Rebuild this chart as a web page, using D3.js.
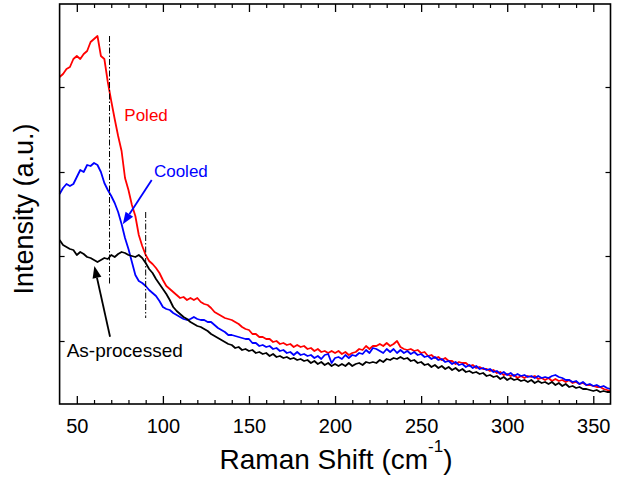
<!DOCTYPE html>
<html>
<head>
<meta charset="utf-8">
<script src="https://cdn.jsdelivr.net/npm/d3@7"></script>
<style>
  body { margin: 0; background: #fff; }
  text { font-family: "Liberation Sans", Arial, sans-serif; }
</style>
</head>
<body>
<div id="chart"></div>
<script>
// raman shift grid (cm-1), shared by all three spectra
var shift = [40,42,44,46,48,50,52,54,56,58,60,62,64,66,68,70,72,74,76,78,80,82,84,86,88,90,92,94,96,98,
  100,102,104,106,108,110,112,114,116,118,120,122,124,126,128,130,132,134,136,138,140,142,144,146,148,
  150,152,154,156,158,160,162,164,166,168,170,172,174,176,178,180,182,184,186,188,190,192,194,196,198,
  200,202,204,206,208,210,212,214,216,218,220,222,224,226,228,230,232,234,236,238,240,242,244,246,248,
  250,252,254,256,258,260,262,264,266,268,270,272,274,276,278,280,282,284,286,288,290,292,294,296,298,
  300,302,304,306,308,310,312,314,316,318,320,322,324,326,328,330,332,334,336,338,340,342,344,346,348,
  350,352,354,356,358,360];

var poled = [327,330,335,337,345,348,345,350,353,362,365,368,348,345,322,303,285,268,253,226,214,199,188,169,158,149,143,140,136,131,
  124,118,115,112,109,106,107,104,106,104,106,102,100,99,96,92,90,88,86,85,84,82,80,77,75,
  74,70,70,67,67,65,65,62,63,60,61,59,60,57,59,57,58,55,56,53,55,52,53,51,53,
  51,53,50,52,49,51,52,55,54,58,55,58,58,60,58,61,58,60,63,57,55,54,55,53,54,
  51,52,48,49,46,47,44,46,43,43,40,42,41,41,38,39,36,37,35,35,33,34,31,32,29,
  30,28,29,26,28,26,28,27,28,25,26,24,26,23,25,23,24,22,24,21,22,20,21,19,19,
  18,17,17,15,14,13];

var cooled = [210,216,220,218,220,227,234,232,239,238,241,239,232,221,214,208,201,192,180,166,155,142,129,123,121,118,114,111,108,103,
  97,95,94,91,89,87,85,84,85,87,85,84,84,82,82,79,76,74,72,69,69,68,67,66,65,
  65,61,61,58,59,57,58,55,56,53,54,51,52,49,52,49,50,48,49,46,48,45,49,50,41,
  46,47,45,49,46,49,48,51,50,54,51,56,55,53,51,55,52,55,51,54,51,53,50,52,49,
  50,47,48,45,47,44,45,42,43,40,42,39,40,37,39,36,38,35,36,34,35,32,33,30,32,
  29,31,28,30,28,29,27,28,26,28,26,27,26,28,29,27,26,24,24,22,23,20,22,19,20,
  18,19,17,18,16,15];

var asProcessed = [164,159,157,155,154,149,152,150,147,146,144,142,144,146,145,149,147,150,152,151,149,148,147,149,146,141,135,131,125,120,
  115,110,104,97,93,90,87,85,82,80,78,77,75,73,70,68,66,64,62,60,59,56,57,54,55,
  53,54,51,52,50,51,48,50,47,48,46,47,45,46,44,45,43,44,41,43,40,42,39,41,38,
  40,38,40,38,41,38,40,41,39,42,41,42,41,44,42,45,44,46,45,47,45,46,43,44,41,
  42,39,40,37,39,36,38,35,37,34,36,33,35,32,33,31,32,30,31,28,29,27,28,25,27,
  24,26,24,25,23,24,22,24,21,23,21,22,20,22,19,21,18,20,17,18,16,17,15,15,14,
  13,14,12,13,12,12];

var xMajor = [50,100,150,200,250,300,350];
var xMinor = [60,70,80,90,110,120,130,140,160,170,180,190,210,220,230,240,260,270,280,290,310,320,330,340];
var yTicks = [63,148,232,317];

// vertical dash-dot guides: [shift, from, to]
var guides = [[69,368,119],[90,192,86]];

var width = 618, height = 487;
var margin = {left: 59.6, right: 7.5, top: 4, bottom: 83};

var x = d3.scaleLinear().domain([40,360]).range([margin.left, width - margin.right]);
var y = d3.scaleLinear().domain([0,400]).range([height - margin.bottom, margin.top]);

var svg = d3.select('#chart').append('svg')
  .attr('width', width)
  .attr('height', height);

svg.append('rect').attr('width', width).attr('height', height).attr('fill', '#fff');

var line = d3.line()
  .x(function (d) { return x(d[0]); })
  .y(function (d) { return y(d[1]); });

function pairs(vals) {
  return shift.map(function (s, i) { return [s, vals[i]]; });
}

var series = [
  {vals: poled, color: '#ff0000'},
  {vals: cooled, color: '#0000ff'},
  {vals: asProcessed, color: '#000000'}
];

svg.selectAll('path.spec')
  .data(series)
  .enter()
  .append('path')
  .attr('class', 'spec')
  .attr('d', function (d) { return line(pairs(d.vals)); })
  .attr('fill', 'none')
  .attr('stroke', function (d) { return d.color; })
  .attr('stroke-width', 1.8)
  .attr('stroke-linejoin', 'round');

svg.selectAll('line.guide')
  .data(guides)
  .enter()
  .append('line')
  .attr('class', 'guide')
  .attr('x1', function (d) { return x(d[0]); })
  .attr('x2', function (d) { return x(d[0]); })
  .attr('y1', function (d) { return y(d[1]); })
  .attr('y2', function (d) { return y(d[2]); })
  .attr('stroke', '#000')
  .attr('stroke-width', 1)
  .attr('stroke-dasharray', '6,2,1.5,2');

// axes, ticks pointing inward
var x0 = y.range()[0], x1 = y.range()[1];

svg.append('g')
  .attr('transform', 'translate(0,' + x0 + ')')
  .call(d3.axisBottom(x).tickValues(xMajor).tickSizeInner(-8).tickSizeOuter(0).tickPadding(15))
  .call(function (g) {
    g.select('.domain').remove();
    g.selectAll('line').attr('stroke-width', 1.3);
    g.selectAll('text').attr('font-size', 20).attr('fill', '#000')
      .attr('font-family', '"Liberation Sans", Arial, sans-serif');
  });

svg.append('g')
  .attr('transform', 'translate(0,' + x0 + ')')
  .call(d3.axisBottom(x).tickValues(xMinor).tickSizeInner(-4).tickSizeOuter(0).tickFormat(''))
  .call(function (g) { g.select('.domain').remove(); g.selectAll('line').attr('stroke-width', 1.2); });

svg.append('g')
  .attr('transform', 'translate(0,' + x1 + ')')
  .call(d3.axisTop(x).tickValues(xMajor).tickSizeInner(-8).tickSizeOuter(0).tickFormat(''))
  .call(function (g) { g.select('.domain').remove(); g.selectAll('line').attr('stroke-width', 1.3); });

svg.append('g')
  .attr('transform', 'translate(0,' + x1 + ')')
  .call(d3.axisTop(x).tickValues(xMinor).tickSizeInner(-4).tickSizeOuter(0).tickFormat(''))
  .call(function (g) { g.select('.domain').remove(); g.selectAll('line').attr('stroke-width', 1.2); });

svg.append('g')
  .attr('transform', 'translate(' + x.range()[0] + ',0)')
  .call(d3.axisLeft(y).tickValues(yTicks).tickSizeInner(-5).tickSizeOuter(0).tickFormat(''))
  .call(function (g) { g.select('.domain').remove(); g.selectAll('line').attr('stroke-width', 1.2); });

svg.append('g')
  .attr('transform', 'translate(' + x.range()[1] + ',0)')
  .call(d3.axisRight(y).tickValues(yTicks).tickSizeInner(-5).tickSizeOuter(0).tickFormat(''))
  .call(function (g) { g.select('.domain').remove(); g.selectAll('line').attr('stroke-width', 1.2); });

svg.append('rect')
  .attr('x', x.range()[0])
  .attr('y', y.range()[1])
  .attr('width', x.range()[1] - x.range()[0])
  .attr('height', y.range()[0] - y.range()[1])
  .attr('fill', 'none')
  .attr('stroke', '#000')
  .attr('stroke-width', 1.6);

// axis titles
var xt = svg.append('text')
  .attr('x', (x.range()[0] + x.range()[1]) / 2 + 1)
  .attr('y', 469)
  .attr('text-anchor', 'middle')
  .attr('font-size', 28)
  .attr('fill', '#000');
xt.append('tspan').text('Raman Shift (cm');
xt.append('tspan').attr('font-size', 17).attr('dy', -17).text('-1');
xt.append('tspan').attr('dy', 17).text(')');

svg.append('text')
  .attr('transform', 'translate(33,209) rotate(-90)')
  .attr('text-anchor', 'middle')
  .attr('font-size', 27)
  .attr('fill', '#000')
  .text('Intensity (a.u.)');

// labels and arrows
var labels = [
  {text: 'Poled', at: [77.6, 283], color: '#ff0000', size: 17},
  {text: 'Cooled', at: [94.8, 227], color: '#0000ff', size: 17},
  {text: 'As-processed', at: [44.1, 47.5], color: '#000000', size: 19}
];

svg.selectAll('text.lbl')
  .data(labels)
  .enter()
  .append('text')
  .attr('class', 'lbl')
  .attr('x', function (d) { return x(d.at[0]); })
  .attr('y', function (d) { return y(d.at[1]); })
  .attr('font-size', function (d) { return d.size; })
  .attr('fill', function (d) { return d.color; })
  .text(function (d) { return d.text; });

var arrows = [
  {from: [93.5, 224], to: [76.7, 179.7], color: '#0000ff'},
  {from: [69.3, 67.3], to: [60.2, 138], color: '#000000'}
];

arrows.forEach(function (a) {
  var xa = x(a.from[0]), ya = y(a.from[1]);
  var xb = x(a.to[0]), yb = y(a.to[1]);
  var ang = Math.atan2(yb - ya, xb - xa);
  var len = 12, half = 4.5;
  var bx = xb - len * Math.cos(ang), by = yb - len * Math.sin(ang);
  svg.append('line')
    .attr('x1', xa).attr('y1', ya)
    .attr('x2', bx).attr('y2', by)
    .attr('stroke', a.color)
    .attr('stroke-width', 1.8);
  var pts = [
    [xb, yb],
    [bx + half * Math.sin(ang), by - half * Math.cos(ang)],
    [bx - half * Math.sin(ang), by + half * Math.cos(ang)]
  ];
  svg.append('polygon')
    .attr('points', pts.map(function (p) { return p.join(','); }).join(' '))
    .attr('fill', a.color);
});
</script>
</body>
</html>
